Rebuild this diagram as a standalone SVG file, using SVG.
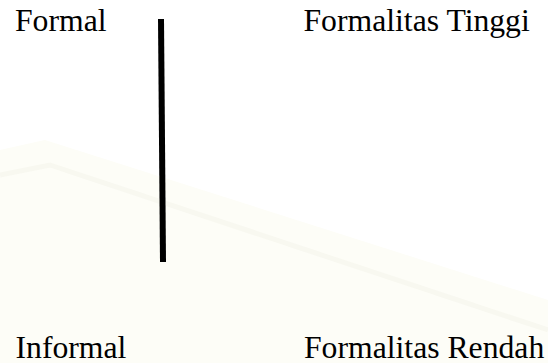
<svg xmlns="http://www.w3.org/2000/svg" width="548" height="363" viewBox="0 0 548 363">
<style>
.t{font-family:"Liberation Serif","Times New Roman",serif;font-size:31.7px;fill:#000}
.wm{fill:#fdfdf7;stroke:none}
</style>
<rect width="548" height="363" fill="#ffffff"/>
<g id="watermark">
<path class="wm" d="M0,150 L45,140 L548,300 L548,363 L0,363 Z"/>
<path d="M0,175 L50,165 L548,330" fill="none" stroke="#f8f8f0" stroke-width="5"/>
</g>
<g id="connectors">
<line x1="161" y1="19" x2="163" y2="262" stroke="#000" stroke-width="6"/>
</g>
<g id="formal"><text class="t" x="15" y="31">Formal</text></g>
<g id="tinggi"><text class="t" x="303.5" y="31">Formalitas Tinggi</text></g>
<g id="informal"><text class="t" x="15.5" y="357.5">Informal</text></g>
<g id="rendah"><text class="t" x="304" y="357.5">Formalitas Rendah</text></g>
</svg>
